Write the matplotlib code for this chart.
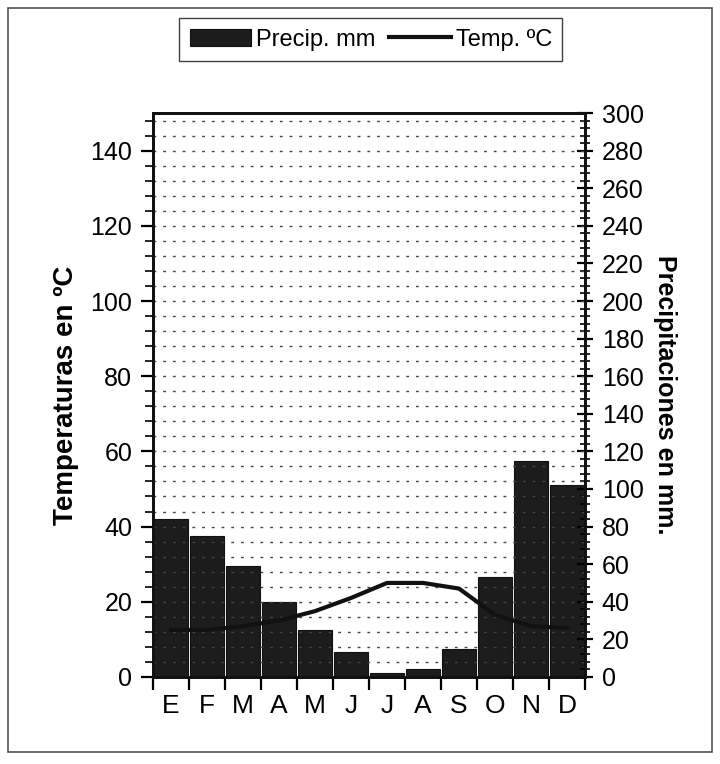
import numpy as np
import matplotlib.pyplot as plt
from matplotlib.patches import Rectangle
from matplotlib.ticker import MultipleLocator, FixedLocator, NullFormatter

plt.rcParams['font.family'] = ['Liberation Sans Narrow', 'Liberation Sans', 'DejaVu Sans']

# Climograph data
months = ["E", "F", "M", "A", "M", "J", "J", "A", "S", "O", "N", "D"]
precip = [84, 75, 59, 40, 25, 13, 2, 4, 15, 53, 115, 102]        # mm
temp = [12.5, 12.5, 13.5, 15, 17.5, 21, 25, 25, 23.5, 16.5, 13.5, 13]  # deg C

fig = plt.figure(figsize=(7.2, 7.64), dpi=100)

# outer frame
fig.patches.append(Rectangle((0.011, 0.016), 0.978, 0.974, transform=fig.transFigure,
                             fill=False, edgecolor="#555555", linewidth=1.2))

ax = fig.add_axes([0.2125, 0.114, 0.6, 0.738])
ax2 = ax.twinx()
ax.set_zorder(ax2.get_zorder() + 1)
ax.patch.set_visible(False)

x = np.arange(len(months))

# precipitation bars (right axis)
bars = ax2.bar(x, precip, width=0.92, color="#1c1c1c", edgecolor="#111111",
               linewidth=0.8, label="Precip. mm")
ax2.set_ylim(0, 300)
ax2.yaxis.set_major_locator(MultipleLocator(20))
ax2.yaxis.set_minor_locator(MultipleLocator(4))
ax2.tick_params(axis="y", which="major", direction="inout", length=12, width=1.6,
                labelsize=18, pad=6)
ax2.tick_params(axis="y", which="minor", direction="inout", length=7, width=1.2)
ax2.set_ylabel("Precipitaciones en mm.", rotation=-90, fontsize=18, fontweight="bold",
               labelpad=24)

# temperature line (left axis)
line, = ax.plot(x, temp, color="#111111", linewidth=3, label="Temp. ºC")
ax.set_ylim(0, 150)
ax.set_xlim(-0.5, len(months) - 0.5)
ax.yaxis.set_major_locator(MultipleLocator(20))
ax.yaxis.set_minor_locator(MultipleLocator(4))
ax.set_yticks(np.arange(0, 141, 20))
ax.tick_params(axis="y", which="major", direction="out", length=9, width=1.6,
               labelsize=18, pad=6)
ax.tick_params(axis="y", which="minor", direction="out", length=6, width=1.2)
ax.set_ylabel("Temperaturas en ºC", fontsize=20, fontweight="bold", labelpad=8)

# dotted horizontal grid every minor step
ax.yaxis.grid(True, which="both", linestyle=(0, (2, 5)), color="#444444", linewidth=1.0)
ax.xaxis.grid(False)

# month labels centred, tick marks at boundaries
ax.xaxis.set_major_locator(FixedLocator(np.arange(-0.5, len(months), 1)))
ax.xaxis.set_major_formatter(NullFormatter())
ax.xaxis.set_minor_locator(FixedLocator(x))
ax.set_xticklabels(months, minor=True)
ax.tick_params(axis="x", which="major", direction="out", length=9, width=1.6)
ax.tick_params(axis="x", which="minor", length=0, labelsize=19, pad=12)

for a in (ax, ax2):
    for s in a.spines.values():
        s.set_linewidth(2)
        s.set_color("#111111")

fig.legend([bars, line], ["Precip. mm", "Temp. ºC"], loc="center",
           bbox_to_anchor=(0.515, 0.948), ncol=2, fontsize=17, frameon=True,
           fancybox=False, edgecolor="#111111", handlelength=2.6,
           handletextpad=0.2, columnspacing=0.6, borderpad=0.45)

fig.savefig("out.png", dpi=100)
